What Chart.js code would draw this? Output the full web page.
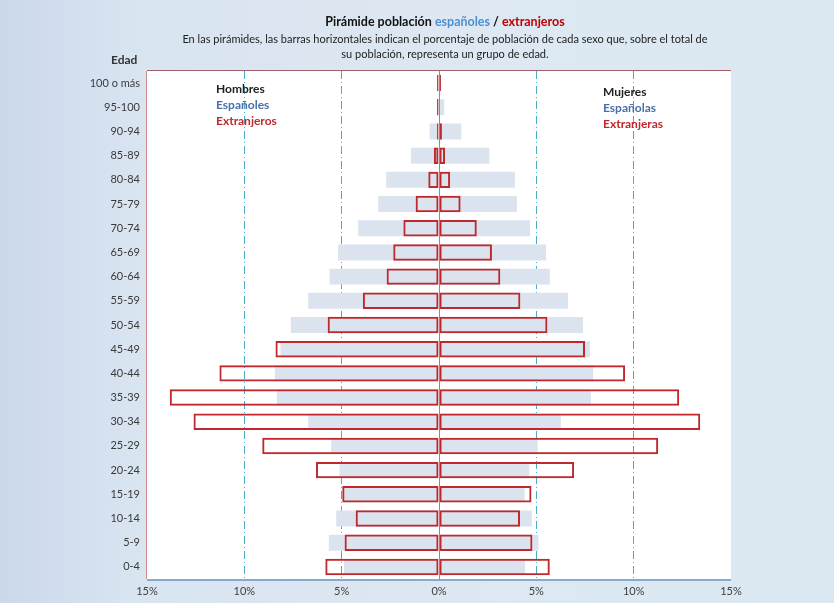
<!DOCTYPE html>
<html>
<head>
<meta charset="utf-8">
<script src="https://cdn.jsdelivr.net/npm/chart.js@4.4.1/dist/chart.umd.min.js"></script>
<style>
  html, body { margin: 0; padding: 0; }
  body {
    width: 834px; height: 603px; position: relative; overflow: hidden;
    background: linear-gradient(to right, #cbd8eb 0%, #d9e4f1 16%, #dde8f2 60%, #dce8f1 100%);
    font-family: Lato, "Open Sans", sans-serif;
  }
  #wrap { position: absolute; left: 0; top: 0; width: 834px; height: 603px; }
  .t { position: absolute; white-space: nowrap; }
  #title { left: 0; width: 890px; top: 14px; text-align: center; font-weight: bold; font-size: 12.5px; color: #111; }
  #sub { left: 0; width: 890px; top: 31px; text-align: center; font-size: 11px; line-height: 15px; color: #222; }
  .lg { font-weight: bold; font-size: 12px; line-height: 16px; }
  #edad { left: 111px; top: 52px; font-weight: bold; font-size: 12px; color: #333; }
</style>
</head>
<body>
<div id="wrap"><canvas id="pyramid" width="834" height="603"></canvas></div>
<div class="t" id="title">Pirámide población <span style="color:#4f8fd0">españoles</span> / <span style="color:#c00000">extranjeros</span></div>
<div class="t" id="sub">En las pirámides, las barras horizontales indican el porcentaje de población de cada sexo que, sobre el total de<br>su población, representa un grupo de edad.</div>
<div class="t" id="edad">Edad</div>
<div class="t lg" style="left:216px;top:81px"><span style="color:#222">Hombres</span><br><span style="color:#4a6ea8">Españoles</span><br><span style="color:#c0282d">Extranjeros</span></div>
<div class="t lg" style="left:603px;top:84px"><span style="color:#222">Mujeres</span><br><span style="color:#4a6ea8">Españolas</span><br><span style="color:#c0282d">Extranjeras</span></div>
<script>
const ageGroups = ["100 o más", "95-100", "90-94", "85-89", "80-84", "75-79", "70-74", "65-69", "60-64", "55-59", "50-54",
    "45-49", "40-44", "35-39", "30-34", "25-29", "20-24", "15-19", "10-14", "5-9", "0-4"];

// % of each population (sex) by age group
const spanishMen = [0.05, 0.1, 0.48, 1.44, 2.71, 3.12, 4.15, 5.18, 5.62, 6.72, 7.61, 8.14, 8.43, 8.33, 6.72, 5.54, 5.11, 4.88, 5.28, 5.66, 4.88];
const spanishWomen = [0.1, 0.27, 1.15, 2.59, 3.9, 4.0, 4.68, 5.5, 5.69, 6.63, 7.4, 7.75, 7.92, 7.8, 6.26, 5.07, 4.64, 4.4, 4.77, 5.11, 4.42];
const foreignMen = [0.1, 0.1, 0.1, 0.26, 0.55, 1.2, 1.83, 2.35, 2.69, 3.91, 5.72, 8.4, 11.28, 13.83, 12.61, 9.08, 6.32, 4.97, 4.28, 4.85, 5.84];
const foreignWomen = [0.1, 0.05, 0.15, 0.31, 0.57, 1.11, 1.94, 2.72, 3.15, 4.18, 5.57, 7.5, 9.56, 12.34, 13.42, 11.26, 6.94, 4.75, 4.16, 4.8, 5.69];

const xTicks = [-15, -10, -5, 0, 5, 10, 15];

const negate = arr => arr.map(v => -v);

// white plot area + frame, and the zero line over the bars
const plotFrame = {
    id: "plotFrame",
    beforeDraw(chart) {
        const { ctx, chartArea: a } = chart;
        ctx.save();
        ctx.fillStyle = "#ffffff";
        ctx.fillRect(a.left, a.top, a.right - a.left, a.bottom - a.top);
        ctx.restore();
    },
    afterDatasetsDraw(chart) {
        const { ctx, chartArea: a, scales } = chart;
        const x0 = Math.round(scales.x.getPixelForValue(0)) + 0.5;
        ctx.save();
        ctx.strokeStyle = "#8c8c8c";
        ctx.lineWidth = 1;
        ctx.beginPath();
        ctx.moveTo(x0, a.top);
        ctx.lineTo(x0, a.bottom);
        ctx.stroke();

        ctx.strokeStyle = "#cf8a8f";
        ctx.beginPath();
        ctx.moveTo(a.left - 0.5, a.top);
        ctx.lineTo(a.left - 0.5, a.bottom);
        ctx.stroke();
        ctx.strokeStyle = "#a4606a";
        ctx.beginPath();
        ctx.moveTo(a.left, a.top - 0.5);
        ctx.lineTo(a.right, a.top - 0.5);
        ctx.stroke();
        ctx.strokeStyle = "#86aacb";
        ctx.lineWidth = 2;
        ctx.beginPath();
        ctx.moveTo(a.left, a.bottom + 1);
        ctx.lineTo(a.right, a.bottom + 1);
        ctx.stroke();
        ctx.restore();
    }
};

const spanishStyle = { backgroundColor: "#dbe3ef", borderWidth: 0, order: 2, grouped: false,
    barPercentage: 0.66, categoryPercentage: 1 };
const foreignStyle = { backgroundColor: "rgba(0,0,0,0)", borderColor: "#c0282d", borderWidth: 2,
    borderSkipped: false, order: 1, grouped: false, barPercentage: 0.68, categoryPercentage: 1 };

new Chart(document.getElementById("pyramid").getContext("2d"), {
    type: "bar",
    data: {
        labels: ageGroups,
        datasets: [
            { label: "Hombres españoles", data: negate(spanishMen), ...spanishStyle },
            { label: "Mujeres españolas", data: spanishWomen, ...spanishStyle },
            { label: "Hombres extranjeros", data: negate(foreignMen), ...foreignStyle },
            { label: "Mujeres extranjeras", data: foreignWomen, ...foreignStyle }
        ]
    },
    options: {
        indexAxis: "y",
        responsive: false,
        animation: false,
        layout: { padding: { top: 71, right: 103, left: 0, bottom: 0 } },
        plugins: { legend: { display: false }, tooltip: { enabled: false } },
        scales: {
            x: {
                min: -15, max: 15,
                afterBuildTicks: scale => { scale.ticks = xTicks.map(v => ({ value: v })); },
                afterFit: scale => { scale.height = 24; },
                border: { display: false, dash: [8, 3, 1, 3] },
                grid: {
                    drawTicks: false,
                    lineWidth: 1,
                    color: c => (Math.abs(c.tick.value) === 5 || Math.abs(c.tick.value) === 10) ? "#4bacc6" : "rgba(0,0,0,0)"
                },
                ticks: {
                    padding: 6,
                    color: "#404040",
                    font: { family: "Lato", size: 11 },
                    callback: v => Math.abs(v) + "%"
                }
            },
            y: {
                afterFit: scale => { scale.width = 147; },
                border: { display: false },
                grid: { display: false, drawTicks: false },
                ticks: {
                    padding: 7,
                    autoSkip: false,
                    color: "#3a3a3a",
                    font: { family: "'Liberation Sans Narrow', Lato", size: 11 }
                }
            }
        }
    },
    plugins: [plotFrame]
});
</script>
</body>
</html>
